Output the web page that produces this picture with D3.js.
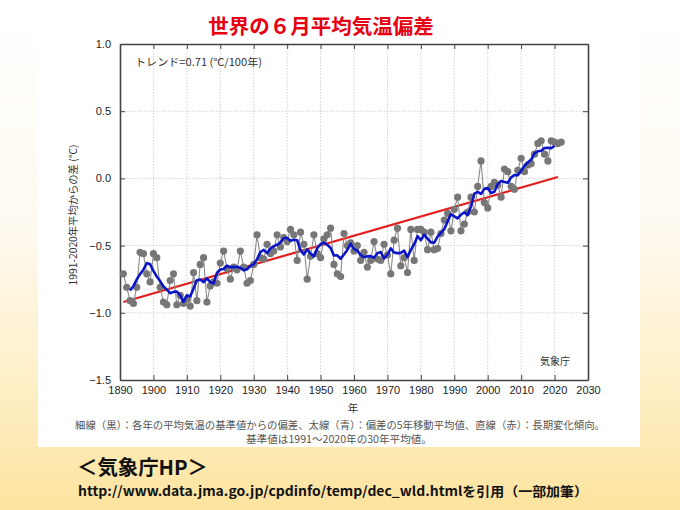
<!DOCTYPE html>
<html><head><meta charset="utf-8">
<script src="https://cdn.jsdelivr.net/npm/d3@7/dist/d3.min.js"></script>
<style>
html,body{margin:0;padding:0;}
body{width:680px;height:510px;overflow:hidden;}
</style></head>
<body>
<svg id="c" width="680" height="510"></svg>
<script>
const years = d3.range(1891, 2023);
const anomalies = [
-0.71,-0.81,-0.91,-0.93,-0.81,-0.55,-0.56,-0.71,-0.77,-0.56,
-0.59,-0.81,-0.92,-0.94,-0.76,-0.71,-0.94,-0.87,-0.93,-0.90,
-0.95,-0.70,-0.91,-0.64,-0.59,-0.92,-0.80,-0.77,-0.78,-0.63,
-0.54,-0.67,-0.75,-0.66,-0.68,-0.54,-0.66,-0.78,-0.76,-0.64,
-0.42,-0.59,-0.60,-0.49,-0.56,-0.54,-0.42,-0.51,-0.44,-0.47,
-0.38,-0.42,-0.61,-0.40,-0.49,-0.75,-0.58,-0.42,-0.56,-0.59,
-0.45,-0.42,-0.37,-0.64,-0.71,-0.73,-0.41,-0.50,-0.48,-0.54,
-0.50,-0.61,-0.55,-0.66,-0.61,-0.47,-0.60,-0.61,-0.49,-0.57,
-0.71,-0.46,-0.37,-0.65,-0.59,-0.70,-0.38,-0.61,-0.38,-0.38,
-0.40,-0.53,-0.40,-0.53,-0.52,-0.41,-0.31,-0.26,-0.39,-0.23,
-0.14,-0.39,-0.34,-0.25,-0.14,-0.25,-0.06,0.13,-0.18,-0.22,
-0.06,-0.03,-0.05,-0.14,0.07,0.05,-0.06,-0.08,0.06,0.15,
0.05,0.10,0.11,0.18,0.26,0.28,0.18,0.13,0.28,0.27,
0.26,0.27];
const trendYears = [1891, 2021];
const trendValues = [-0.92, 0.01];
const xTicks = d3.range(1890, 2031, 10);
const yTicks = [1.0, 0.5, 0.0, -0.5, -1.0, -1.5];

const svg = d3.select('#c');
const defs = svg.append('defs');
const g = defs.append('linearGradient').attr('id','bg').attr('x1',0).attr('y1',0).attr('x2',0).attr('y2',1);
g.append('stop').attr('offset','0%').attr('stop-color','#ffffff');
g.append('stop').attr('offset','45%').attr('stop-color','#fffaf0');
g.append('stop').attr('offset','85%').attr('stop-color','#fdebb8');
g.append('stop').attr('offset','100%').attr('stop-color','#fde39e');
svg.append('rect').attr('width',680).attr('height',510).attr('fill','url(#bg)');
svg.append('rect').attr('x',38).attr('y',0).attr('width',602).attr('height',447).attr('fill','#ffffff');

const x = d3.scaleLinear().domain([1890, 2030]).range([120, 588]);
const y = d3.scaleLinear().domain([-1.5, 1.0]).range([380, 44]);

// grid
const grid = svg.append('g');
grid.selectAll('.vg').data(xTicks.slice(1,-1)).enter().append('line')
  .attr('x1',d=>x(d)).attr('x2',d=>x(d)).attr('y1',y(1.0)).attr('y2',y(-1.5))
  .attr('stroke','#c8c8c8').attr('stroke-width',0.8).attr('stroke-dasharray','1.5,1.5');
grid.selectAll('.hg').data(yTicks.slice(1,-1)).enter().append('line')
  .attr('x1',x(1890)).attr('x2',x(2030)).attr('y1',d=>y(d)).attr('y2',d=>y(d))
  .attr('stroke','#c8c8c8').attr('stroke-width',0.8).attr('stroke-dasharray','1.5,1.5');

// axes
const fnum = '"Liberation Sans", Arial, sans-serif';
const xb = svg.append('g').attr('transform',`translate(0,${y(-1.5)})`)
  .call(d3.axisBottom(x).tickValues(xTicks).tickFormat(d3.format('d')).tickSizeInner(-5).tickSizeOuter(0).tickPadding(8));
const xt = svg.append('g').attr('transform',`translate(0,${y(1.0)})`)
  .call(d3.axisTop(x).tickValues(xTicks).tickFormat('').tickSizeInner(-5).tickSizeOuter(0));
const yl = svg.append('g').attr('transform',`translate(${x(1890)},0)`)
  .call(d3.axisLeft(y).tickValues(yTicks).tickFormat(d3.format('.1f')).tickSizeInner(-5).tickSizeOuter(0).tickPadding(9));
const yr = svg.append('g').attr('transform',`translate(${x(2030)},0)`)
  .call(d3.axisRight(y).tickValues(yTicks).tickFormat('').tickSizeInner(-5).tickSizeOuter(0));
[xb,xt,yl,yr].forEach(a=>{
  a.select('.domain').attr('stroke','#444').attr('stroke-width',1.6);
  a.selectAll('.tick line').attr('stroke','#444');
  a.selectAll('text').attr('fill','#222').style('font-family',fnum).style('font-size','11px');
});
xb.selectAll('text').attr('dy','0.5em');

// trend
svg.append('line')
  .attr('x1',x(trendYears[0])).attr('y1',y(trendValues[0]))
  .attr('x2',x(trendYears[1])).attr('y2',y(trendValues[1]))
  .attr('stroke','#e41e1e').attr('stroke-width',2.2);

// annual data
const pts = years.map((yr,i)=>({yr, v: anomalies[i]}));
svg.append('path').datum(pts)
  .attr('d', d3.line().x(d=>x(d.yr)).y(d=>y(d.v)))
  .attr('fill','none').attr('stroke','#8a8a8a').attr('stroke-width',1.1);
svg.selectAll('.dot').data(pts).enter().append('circle')
  .attr('cx',d=>x(d.yr)).attr('cy',d=>y(d.v)).attr('r',3.6).attr('fill','#777777');

// 5-year moving average of the annual anomalies
const ma = pts.slice(2, pts.length-2).map((d,i)=>({yr:d.yr, v:d3.mean(pts.slice(i, i+5), p=>p.v)}));
svg.append('path').datum(ma)
  .attr('d', d3.line().x(d=>x(d.yr)).y(d=>y(d.v)))
  .attr('fill','none').attr('stroke','#0a14c8').attr('stroke-width',2.6).attr('stroke-linejoin','round');

// texts
const fjp = '"Noto Sans CJK JP", "Noto Sans", sans-serif';
svg.append('text').attr('x',321).attr('y',34).attr('text-anchor','middle')
  .style('font-family',fjp).style('font-weight',700).style('font-size','20.5px').attr('fill','#e60012')
  .text('世界の６月平均気温偏差');
svg.append('text').attr('x',135).attr('y',66)
  .attr('textLength',127).attr('lengthAdjust','spacingAndGlyphs')
  .style('font-family',fjp).style('font-size','10.5px').attr('fill','#333')
  .text('トレンド=0.71 (℃/100年)');
svg.append('text').attr('x',555).attr('y',365).attr('text-anchor','middle')
  .style('font-family',fjp).style('font-size','10px').attr('fill','#333').text('気象庁');
svg.append('text').attr('x',353).attr('y',412).attr('text-anchor','middle')
  .style('font-family',fjp).style('font-size','10.5px').attr('fill','#333').text('年');
svg.append('text').attr('transform','translate(77,215) rotate(-90)').attr('text-anchor','middle')
  .style('font-family',fjp).style('font-size','10.3px').attr('fill','#333')
  .text('1991-2020年平均からの差 (℃)');
svg.append('text').attr('x',340).attr('y',429).attr('text-anchor','middle')
  .attr('textLength',530).attr('lengthAdjust','spacingAndGlyphs')
  .style('font-family',fjp).style('font-size','10.4px').attr('fill','#555')
  .text('細線（黒）：各年の平均気温の基準値からの偏差、太線（青）：偏差の5年移動平均値、直線（赤）：長期変化傾向。');
svg.append('text').attr('x',339).attr('y',443).attr('text-anchor','middle')
  .style('font-family',fjp).style('font-size','10.6px').attr('fill','#555')
  .text('基準値は1991～2020年の30年平均値。');
svg.append('text').attr('x',77).attr('y',475)
  .attr('textLength',131).attr('lengthAdjust','spacingAndGlyphs')
  .style('font-family',fjp).style('font-weight',700).style('font-size','20.5px').attr('fill','#111')
  .text('＜気象庁HP＞');
svg.append('text').attr('x',78).attr('y',496)
  .attr('textLength',510).attr('lengthAdjust','spacingAndGlyphs')
  .style('font-family',fjp).style('font-weight',700).style('font-size','13px').attr('fill','#111')
  .text('http://www.data.jma.go.jp/cpdinfo/temp/dec_wld.htmlを引用（一部加筆）');
</script>
</body></html>
